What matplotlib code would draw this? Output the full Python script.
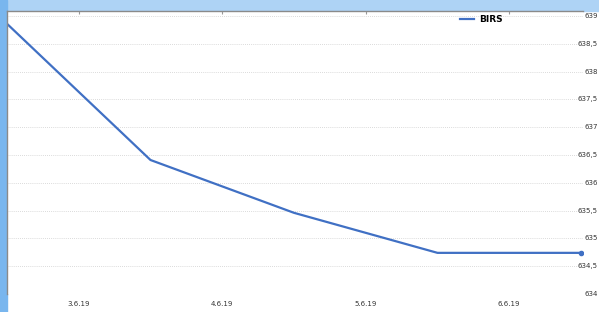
import matplotlib
matplotlib.use("Agg")
import matplotlib.pyplot as plt
from matplotlib.patches import Rectangle
from matplotlib.transforms import blended_transform_factory

# data
dates = ["3.6.19", "4.6.19", "5.6.19", "6.6.19"]
birs = [638.86, 636.41, 635.46, 634.74, 634.74]
y_ticks = [634, 634.5, 635, 635.5, 636, 636.5, 637, 637.5, 638, 638.5, 639]

W, H = 599, 312
fig = plt.figure(figsize=(W / 100, H / 100), dpi=100)
fig.patch.set_facecolor("white")

# window chrome strips (top and left)
fig.add_artist(Rectangle((0, 1 - 11 / H), 1, 11 / H, transform=fig.transFigure,
                         color="#aed3f5", zorder=0))
fig.add_artist(Rectangle((0, 0), 7 / W, 1, transform=fig.transFigure,
                         color="#79b6ee", zorder=0))

left, right, top, bottom = 7, 583, 11, 294
ax = fig.add_axes([left / W, 1 - bottom / H, (right - left) / W, (bottom - top) / H])

x = list(range(len(birs)))
ax.plot(x, birs, color="#4070c4", lw=1.6, label="BIRS", solid_joinstyle="round")
ax.plot(x[-1], birs[-1], "o", color="#4070c4", ms=3)

ax.set_xlim(0, 4.014)
ax.set_ylim(634, 639.09)

lbl_tr = blended_transform_factory(fig.transFigure, ax.transData)
for v in y_ticks:
    ax.axhline(v, color="#cfcfcf", lw=0.6, ls=(0, (1, 1.5)), zorder=0)
    lbl = f"{v:g}".replace(".", ",")
    ax.text(598 / W, v, lbl, transform=lbl_tr, ha="right", va="center",
            fontsize=5, color="#333333")

ax.set_yticks([])
ax.set_xticks([i + 0.5 for i in range(len(dates))])
ax.set_xticklabels(dates, fontsize=5, color="#333333")
ax.tick_params(axis="x", bottom=False, top=True, labelbottom=True, direction="in",
               length=2, color="#999999", pad=5)

for s in ["right", "bottom"]:
    ax.spines[s].set_visible(False)
for s in ["top", "left"]:
    ax.spines[s].set_color("#8a8a8a")
    ax.spines[s].set_linewidth(1.0)

ax.legend(loc="center left", bbox_to_anchor=(455 / W, 1 - 20 / H),
          bbox_transform=fig.transFigure, frameon=False, handlelength=1.6,
          handletextpad=0.6, borderpad=0, prop={"size": 6.5, "weight": "bold"})

fig.savefig("out.png", dpi=100)
